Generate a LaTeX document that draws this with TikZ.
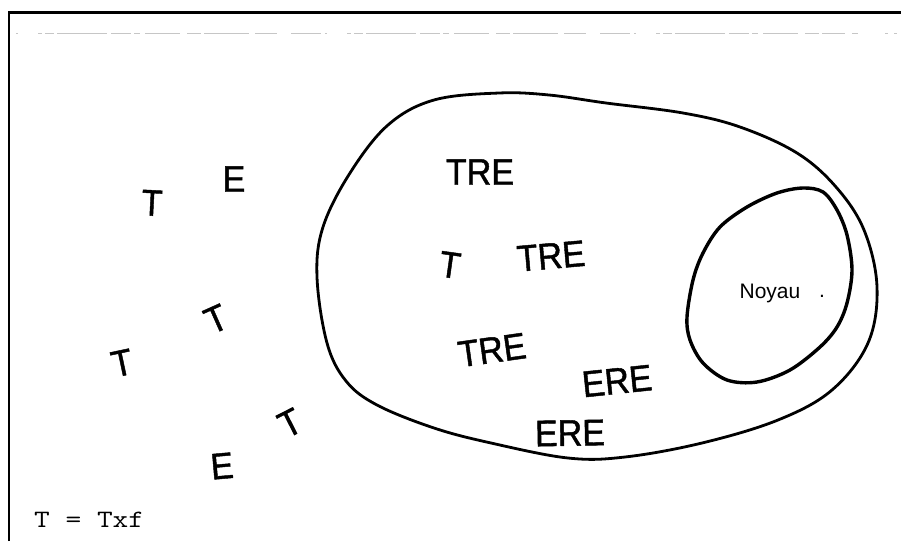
\documentclass[tikz,border=0pt]{standalone}
\usepackage{fontspec}
\newfontfamily\lett[FakeStretch=0.92,FakeBold=1.2]{Liberation Sans}
\newfontfamily\smallsans{Liberation Sans}
\newfontfamily\typew[FakeStretch=1.22]{Latin Modern Mono}
\begin{document}
\begin{tikzpicture}[x=1pt,y=-1pt,
  letter/.style={inner sep=0pt, font=\lett\fontsize{37}{37}\selectfont},
  blob/.style={line width=2.8pt, line join=round},
  innerblob/.style={line width=3.4pt, line join=round},
  faint/.style={gray!45, line width=0.8pt}]
\useasboundingbox (0,0) rectangle (901,541);
\fill[white] (0,0) rectangle (901,541);
% frame
\draw[line width=2.2pt] (9,541) -- (9,12.5) -- (901,12.5);
% faint broken line at top
\draw[faint, dash pattern=on 2pt off 20pt on 4pt off 3pt on 9pt off 3pt on 50pt off 4pt on 20pt off 3pt on 6pt off 5pt on 35pt off 7pt on 14pt off 3pt on 45pt off 6pt on 22pt off 14pt on 30pt off 4pt]
  (16,33) -- (845,33);
\draw[faint] (852,33) -- (858,33) (885,33) -- (888,33) (894,33) -- (897,33);
% outer blob
\draw[blob] plot[smooth cycle, tension=0.6] coordinates {
 (499,93) (549,95) (606,103) (683,113) (740,127) (797,153) (836,187)
 (864,230) (877,287) (868,343) (832,390) (778,420) (702,443) (625,457)
 (568,458) (491,443) (434,428) (377,405) (346,381) (327,343) (317,277)
 (323,227) (350,173) (388,125) (434,100)};
% inner blob (Noyau)
\draw[innerblob] plot[smooth cycle, tension=0.55] coordinates {
 (803,188) (823,192) (837,210) (847,235) (852,270) (847,303) (837,327)
 (820,347) (790,370) (757,382) (727,380) (703,363) (690,340) (687,317)
 (693,280) (703,253) (720,227) (747,207) (777,193)};
\node[font=\smallsans\fontsize{21}{21}\selectfont, inner sep=0pt] (noyau) at (770,293) {Noyau};
\node[font=\smallsans\fontsize{21}{21}\selectfont, inner sep=0pt] (dot) at (822,296) {.};
% letters outside
\node[letter, rotate=-3] (t1) at (152,203) {T};
\node[letter] (e1) at (234,179) {E};
\node[letter, rotate=24] (t2) at (216,319) {T};
\node[letter, rotate=12] (t3) at (122,363) {T};
\node[letter, rotate=27] (t4) at (290,423) {T};
\node[letter, rotate=5] (e2) at (222,466) {E};
% letters inside
\node[letter] (tre1) at (480,172) {TRE};
\node[letter, rotate=-8] (t5) at (450,265) {T};
\node[letter, rotate=5] (tre2) at (551,256) {TRE};
\node[letter, rotate=8] (tre3) at (492,350) {TRE};
\node[letter, rotate=6] (ere1) at (617,381) {ERE};
\node[letter, rotate=1] (ere2) at (570,433) {ERE};
% legend
\node[font=\typew\fontsize{25}{25}\selectfont, anchor=west, inner sep=0pt] (legend) at (34,520) {T = Txf};
\end{tikzpicture}
\end{document}
